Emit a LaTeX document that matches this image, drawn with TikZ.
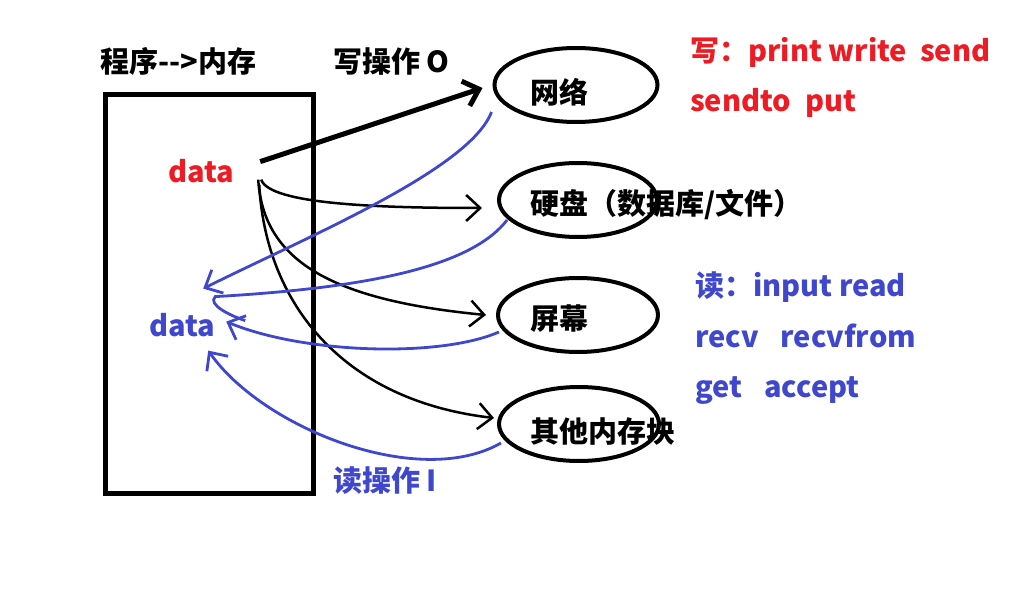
\documentclass[tikz,border=0pt]{standalone}
\usepackage{fontspec}
\setmainfont{Noto Sans CJK SC}
\usepackage{xcolor}
\usetikzlibrary{shapes.geometric,arrows.meta}
\definecolor{paintred}{HTML}{ED1C24}
\definecolor{paintblue}{HTML}{3F48CC}

\begin{document}
\begin{tikzpicture}[x=1pt,y=-1pt,
    every node/.style={font=\fontsize{29}{33}\selectfont\bfseries,inner sep=0pt},
    dev/.style={draw,ellipse,line width=4pt,minimum width=#1,minimum height=74pt},
    wline/.style={line width=2.5pt,-{Straight Barb[length=14pt,width=26pt]}},
    rline/.style={paintblue,line width=2.8pt,-{Straight Barb[length=14pt,width=26pt]}}]
    \useasboundingbox (0,0) rectangle (1018,604);
    % memory box and titles
    \node[draw,line width=5pt,minimum width=208pt,minimum height=398pt] (ram) at (209,294) {};
    \node[anchor=base west] (ttl) at (100,73) {程序-{}-{}>内存};
    \node[anchor=base west] (wop) at (333,73) {写操作 O};
    \node[anchor=base west,paintred] (wdata) at (168,183) {data};
    \node[anchor=base west,paintblue] (rdata) at (149,337) {data};
    \node[anchor=base west,paintblue] (rop) at (333,491) {读操作 I};
    % devices
    \node[dev=163pt] (net) at (576,85) {};
    \node[dev=158pt] (disk) at (578,200) {};
    \node[dev=160pt] (scr) at (578,315) {};
    \node[dev=160pt] (mem) at (579,424) {};
    \node[anchor=base west] (netl) at (530,104) {网络};
    \node[anchor=base west] (diskl) at (530,215) {硬盘（数据库/文件）};
    \node[anchor=base west] (scrl) at (530,330) {屏幕};
    \node[anchor=base west] (meml) at (530,442) {其他内存块};
    % function lists
    \node[anchor=base west,paintred] (wr1) at (690,62) {写：print write\hspace{13pt}send};
    \node[anchor=base west,paintred] (wr2) at (690,112) {sendto\hspace{14pt}put};
    \node[anchor=base west,paintblue] (rd1) at (695,297) {读：input read};
    \node[anchor=base west,paintblue] (rd2) at (695,347) {recv\hspace{22pt}recvfrom};
    \node[anchor=base west,paintblue] (rd3) at (695,397) {get\hspace{22pt}accept};
    % write: data -> devices
    \draw[wline,line width=5pt] ([shift={(26,-10)}]wdata.east) -- ([shift={(-10,3)}]net.west);
    \draw[wline] ([shift={(27,8)}]wdata.east) .. controls +(8,25) and +(-100,0) .. ([shift={(-15,8)}]disk.west);
    \draw[wline] ([shift={(24,8)}]wdata.east) .. controls +(5,80) and +(-157,-15) .. ([shift={(-10,0)}]scr.west);
    \draw[wline] ([shift={(25,13)}]wdata.east) .. controls +(6,115) and +(-155,-18) .. ([shift={(-3,-6)}]mem.west);
    % read: devices -> data
    \draw[rline] ([shift={(-1,27)}]net.west) .. controls +(-22,58) and +(100,-50) .. ([shift={(-12,-37)}]rdata.east);
    \draw[paintblue,line width=2.8pt] ([shift={(10,20)}]disk.west) .. controls +(-38,50) and +(138,-8) .. ([shift={(0,-29)}]rdata.east)
      .. controls +(-8,8) and +(-15,-5) .. ([shift={(30,-5)}]rdata.east);
    \draw[rline] ([shift={(3,17)}]scr.west) .. controls +(-60,26) and +(77,32) .. ([shift={(11,-4)}]rdata.east);
    \draw[rline] ([shift={(4,19)}]mem.west) .. controls +(-82,47) and +(55,78) .. ([shift={(-7,25)}]rdata.east);
\end{tikzpicture}
\end{document}
